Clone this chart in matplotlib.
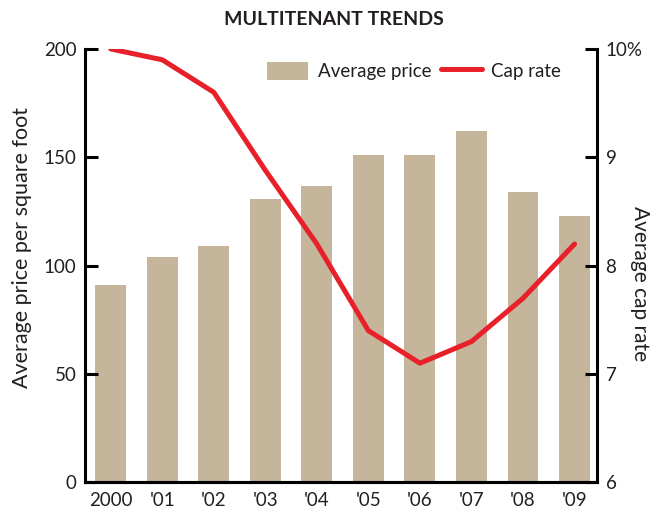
import matplotlib
matplotlib.use("Agg")
import matplotlib.pyplot as plt
from matplotlib.patches import Patch
from matplotlib.lines import Line2D
import numpy as np

years = ["2000", "'01", "'02", "'03", "'04", "'05", "'06", "'07", "'08", "'09"]
avg_price = [91, 104, 109, 131, 137, 151, 151, 162, 134, 123]
cap_rate = [10.0, 9.9, 9.6, 8.88, 8.2, 7.4, 7.1, 7.3, 7.7, 8.2]
left_ticks = [0, 50, 100, 150, 200]
right_ticks = [6, 7, 8, 9, 10]
right_ticklabels = ["6", "7", "8", "9", "10%"]

FONT = ["Lato", "DejaVu Sans"]
plt.rcParams["font.family"] = FONT

BAR = "#C4B59B"
RED = "#E8202A"
TXT = "#231F20"

fig = plt.figure(figsize=(6.67, 5.15), dpi=100)
ax = fig.add_axes([0.1274, 0.0633, 0.768, 0.8416])
ax2 = ax.twinx()

x = np.arange(len(years))
ax.bar(x, avg_price, width=0.6, color=BAR, zorder=1)
ax2.plot(x, cap_rate, color=RED, lw=3.6, solid_capstyle="round", solid_joinstyle="round", zorder=3)

ax.set_xlim(-0.5, 9.44)
ax.set_ylim(0, 200)
ax2.set_ylim(6, 10)

ax.set_yticks(left_ticks)
ax.set_yticklabels([str(v) for v in left_ticks])
ax2.set_yticks(right_ticks)
ax2.set_yticklabels(right_ticklabels)
ax.set_xticks(x)
ax.set_xticklabels(years)

for a in (ax, ax2):
    a.spines["top"].set_visible(False)
    for s in ("left", "right", "bottom"):
        a.spines[s].set_linewidth(2.2)
        a.spines[s].set_color("black")
    a.tick_params(axis="y", direction="in", length=9, width=2.2, labelsize=13.5, pad=6, colors=TXT)
    a.tick_params(axis="y", color="black")
ax.tick_params(axis="x", length=0, labelsize=13.5, pad=7, colors=TXT)
ax2.spines["left"].set_visible(False)
ax.spines["right"].set_visible(False)

fig.text(22 / 667, 1 - 248 / 515, "Average price per square foot", rotation=90, ha="center", va="center",
         fontsize=15.5, color=TXT)
fig.text(640 / 667, 1 - 284 / 515, "Average cap rate", rotation=-90, ha="center", va="center",
         fontsize=15, color=TXT)

fig.text(0.5, 0.962, "MULTITENANT TRENDS", ha="center", va="center",
         fontsize=14, fontweight="bold", color=TXT)

handles = [Patch(facecolor=BAR, edgecolor="none"),
           Line2D([0], [0], color=RED, lw=3.6, solid_capstyle="round")]
leg = ax2.legend(handles, ["Average price", "Cap rate"], ncol=2, loc="center",
                 bbox_to_anchor=((414 - 85) / 512, (482.4 - 71) / 433.4), frameon=False, fontsize=13.5,
                 handlelength=2.2, handleheight=1.1, handletextpad=0.5,
                 columnspacing=0.5, labelcolor=TXT, borderpad=0)

fig.savefig("out.png", dpi=100)
